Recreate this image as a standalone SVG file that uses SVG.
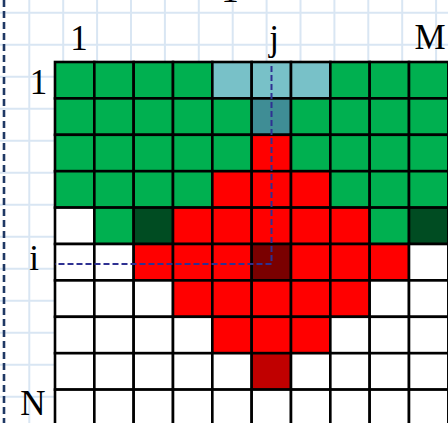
<svg xmlns="http://www.w3.org/2000/svg" width="448" height="423" viewBox="0 0 448 423">
<style>
.bg{stroke:#d9e6f3;stroke-width:2;fill:none}
.c{stroke:#000;stroke-width:2.6}
.G{fill:#00b050}.T{fill:#78c1c8}.D{fill:#3f8d95}.R{fill:#ff0000}.K{fill:#004c22}.X{fill:#7a0000}.Y{fill:#c00000}.W{fill:#fff}
.lbl{font-family:"Liberation Serif","Times New Roman",serif;font-size:35px;fill:#000;text-anchor:middle}
.dash{fill:none;stroke:#2e3192;stroke-width:2;stroke-dasharray:6 3}
</style>
<defs>
<rect id="cell" width="39.33" height="36.4"/>
</defs>
<rect width="448" height="423" fill="#fff"/>
<g id="paper">
<path class="bg" d="M29.3 0V423M63.2 0V423M97.1 0V423M131 0V423M164.9 0V423M198.8 0V423M232.7 0V423M266.6 0V423M300.5 0V423M334.4 0V423M368.3 0V423M402.2 0V423M436.1 0V423"/>
<path class="bg" d="M0 12.7H448M0 44.7H448M0 76.7H448M0 108.7H448M0 140.7H448M0 172.7H448M0 204.7H448M0 236.7H448M0 268.7H448M0 300.7H448M0 332.7H448M0 364.7H448M0 396.7H448"/>
</g>
<g id="frame">
<line x1="4" y1="0" x2="4" y2="423" stroke="#1f3864" stroke-width="2.6" stroke-dasharray="7 4"/>
</g>
<g id="grid">
<g id="row1">
<use href="#cell" x="55" y="62" class="c G"/><use href="#cell" x="94.33" y="62" class="c G"/><use href="#cell" x="133.67" y="62" class="c G"/><use href="#cell" x="173" y="62" class="c G"/><use href="#cell" x="212.33" y="62" class="c T"/><use href="#cell" x="251.67" y="62" class="c T"/><use href="#cell" x="291" y="62" class="c T"/><use href="#cell" x="330.33" y="62" class="c G"/><use href="#cell" x="369.67" y="62" class="c G"/><use href="#cell" x="409" y="62" class="c G"/>
</g>
<g id="row2">
<use href="#cell" x="55" y="98.4" class="c G"/><use href="#cell" x="94.33" y="98.4" class="c G"/><use href="#cell" x="133.67" y="98.4" class="c G"/><use href="#cell" x="173" y="98.4" class="c G"/><use href="#cell" x="212.33" y="98.4" class="c G"/><use href="#cell" x="251.67" y="98.4" class="c D"/><use href="#cell" x="291" y="98.4" class="c G"/><use href="#cell" x="330.33" y="98.4" class="c G"/><use href="#cell" x="369.67" y="98.4" class="c G"/><use href="#cell" x="409" y="98.4" class="c G"/>
</g>
<g id="row3">
<use href="#cell" x="55" y="134.8" class="c G"/><use href="#cell" x="94.33" y="134.8" class="c G"/><use href="#cell" x="133.67" y="134.8" class="c G"/><use href="#cell" x="173" y="134.8" class="c G"/><use href="#cell" x="212.33" y="134.8" class="c G"/><use href="#cell" x="251.67" y="134.8" class="c R"/><use href="#cell" x="291" y="134.8" class="c G"/><use href="#cell" x="330.33" y="134.8" class="c G"/><use href="#cell" x="369.67" y="134.8" class="c G"/><use href="#cell" x="409" y="134.8" class="c G"/>
</g>
<g id="row4">
<use href="#cell" x="55" y="171.2" class="c G"/><use href="#cell" x="94.33" y="171.2" class="c G"/><use href="#cell" x="133.67" y="171.2" class="c G"/><use href="#cell" x="173" y="171.2" class="c G"/><use href="#cell" x="212.33" y="171.2" class="c R"/><use href="#cell" x="251.67" y="171.2" class="c R"/><use href="#cell" x="291" y="171.2" class="c R"/><use href="#cell" x="330.33" y="171.2" class="c G"/><use href="#cell" x="369.67" y="171.2" class="c G"/><use href="#cell" x="409" y="171.2" class="c G"/>
</g>
<g id="row5">
<use href="#cell" x="55" y="207.6" class="c W"/><use href="#cell" x="94.33" y="207.6" class="c G"/><use href="#cell" x="133.67" y="207.6" class="c K"/><use href="#cell" x="173" y="207.6" class="c R"/><use href="#cell" x="212.33" y="207.6" class="c R"/><use href="#cell" x="251.67" y="207.6" class="c R"/><use href="#cell" x="291" y="207.6" class="c R"/><use href="#cell" x="330.33" y="207.6" class="c R"/><use href="#cell" x="369.67" y="207.6" class="c G"/><use href="#cell" x="409" y="207.6" class="c K"/>
</g>
<g id="row6">
<use href="#cell" x="55" y="244" class="c W"/><use href="#cell" x="94.33" y="244" class="c W"/><use href="#cell" x="133.67" y="244" class="c R"/><use href="#cell" x="173" y="244" class="c R"/><use href="#cell" x="212.33" y="244" class="c R"/><use href="#cell" x="251.67" y="244" class="c X"/><use href="#cell" x="291" y="244" class="c R"/><use href="#cell" x="330.33" y="244" class="c R"/><use href="#cell" x="369.67" y="244" class="c R"/><use href="#cell" x="409" y="244" class="c W"/>
</g>
<g id="row7">
<use href="#cell" x="55" y="280.4" class="c W"/><use href="#cell" x="94.33" y="280.4" class="c W"/><use href="#cell" x="133.67" y="280.4" class="c W"/><use href="#cell" x="173" y="280.4" class="c R"/><use href="#cell" x="212.33" y="280.4" class="c R"/><use href="#cell" x="251.67" y="280.4" class="c R"/><use href="#cell" x="291" y="280.4" class="c R"/><use href="#cell" x="330.33" y="280.4" class="c R"/><use href="#cell" x="369.67" y="280.4" class="c W"/><use href="#cell" x="409" y="280.4" class="c W"/>
</g>
<g id="row8">
<use href="#cell" x="55" y="316.8" class="c W"/><use href="#cell" x="94.33" y="316.8" class="c W"/><use href="#cell" x="133.67" y="316.8" class="c W"/><use href="#cell" x="173" y="316.8" class="c W"/><use href="#cell" x="212.33" y="316.8" class="c R"/><use href="#cell" x="251.67" y="316.8" class="c R"/><use href="#cell" x="291" y="316.8" class="c R"/><use href="#cell" x="330.33" y="316.8" class="c W"/><use href="#cell" x="369.67" y="316.8" class="c W"/><use href="#cell" x="409" y="316.8" class="c W"/>
</g>
<g id="row9">
<use href="#cell" x="55" y="353.2" class="c W"/><use href="#cell" x="94.33" y="353.2" class="c W"/><use href="#cell" x="133.67" y="353.2" class="c W"/><use href="#cell" x="173" y="353.2" class="c W"/><use href="#cell" x="212.33" y="353.2" class="c W"/><use href="#cell" x="251.67" y="353.2" class="c Y"/><use href="#cell" x="291" y="353.2" class="c W"/><use href="#cell" x="330.33" y="353.2" class="c W"/><use href="#cell" x="369.67" y="353.2" class="c W"/><use href="#cell" x="409" y="353.2" class="c W"/>
</g>
<g id="row10">
<use href="#cell" x="55" y="389.6" class="c W"/><use href="#cell" x="94.33" y="389.6" class="c W"/><use href="#cell" x="133.67" y="389.6" class="c W"/><use href="#cell" x="173" y="389.6" class="c W"/><use href="#cell" x="212.33" y="389.6" class="c W"/><use href="#cell" x="251.67" y="389.6" class="c W"/><use href="#cell" x="291" y="389.6" class="c W"/><use href="#cell" x="330.33" y="389.6" class="c W"/><use href="#cell" x="369.67" y="389.6" class="c W"/><use href="#cell" x="409" y="389.6" class="c W"/>
</g>
</g>
<g id="connectors">
<path class="dash" d="M271.5 66V264H55"/>
</g>
<g id="labels">
<text class="lbl" x="230" y="2">1</text>
<text class="lbl" x="79" y="50">1</text>
<text class="lbl" x="274" y="50">j</text>
<text class="lbl" x="430" y="49">M</text>
<text class="lbl" x="38.5" y="94">1</text>
<text class="lbl" x="34" y="270">i</text>
<text class="lbl" x="33" y="415">N</text>
</g>
</svg>
